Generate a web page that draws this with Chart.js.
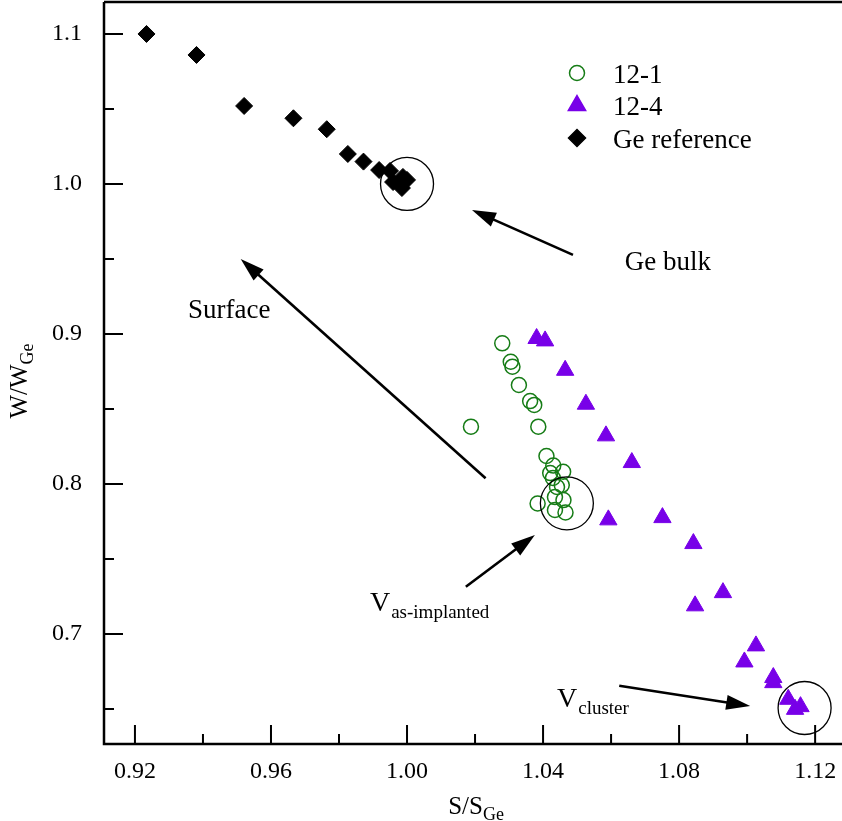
<!DOCTYPE html>
<html>
<head>
<meta charset="utf-8">
<script src="https://cdn.jsdelivr.net/npm/chart.js@4.4.1/dist/chart.umd.min.js"></script>
<style>
  html, body { margin: 0; padding: 0; background: #fff; }
  canvas { display: block; }
</style>
</head>
<body>
<canvas id="sw" width="842" height="821"></canvas>
<script>
// S and W parameters, normalised to the Ge reference
var sGe  = [0.9234, 0.9381, 0.9521, 0.9666, 0.9764, 0.9826, 0.9872, 0.9918, 0.9950, 0.9959, 0.9985, 1.0000, 0.9988];
var wGe  = [1.100, 1.086, 1.052, 1.0438, 1.0365, 1.020, 1.0149, 1.0093, 1.0087, 1.0013, 0.9973, 1.0027, 1.0047];

var s121 = [1.0280, 1.0305, 1.0310, 1.0329, 1.0362, 1.0374, 1.0188, 1.0386, 1.0410, 1.0430,
            1.0459, 1.0421, 1.0429, 1.0455, 1.0441, 1.0435, 1.0460, 1.0384, 1.0435, 1.0466];
var w121 = [0.8938, 0.8815, 0.8782, 0.8660, 0.8553, 0.8527, 0.8382, 0.8382, 0.8187, 0.8123,
            0.8082, 0.8073, 0.8040, 0.7993, 0.7980, 0.7913, 0.7893, 0.7870, 0.7827, 0.7810];

var s124 = [1.0381, 1.0406, 1.0465, 1.0526, 1.0585, 1.0661, 1.0592, 1.0751, 1.0842,
            1.0929, 1.0847, 1.1026, 1.0992, 1.1077, 1.1077, 1.1121, 1.1141, 1.1157];
var w124 = [0.8970, 0.8954, 0.8758, 0.8532, 0.8321, 0.8143, 0.7761, 0.7776, 0.7603,
            0.7276, 0.7188, 0.6921, 0.6814, 0.6710, 0.6676, 0.6565, 0.6498, 0.6516];

var seriesNames = ["12-1", "12-4", "Ge reference"];

// annotation circles (S, W) and arrows [S tail, W tail, S tip, W tip]
var ringCentres = [[1.000, 1.000], [1.0470, 0.7871], [1.1169, 0.6507]];
var arrows = [
    [1.0488, 0.9527, 1.0191, 0.9827],
    [1.0231, 0.8038, 0.9511, 0.9500],
    [1.0173, 0.7315, 1.0376, 0.7660],
    [1.0624, 0.6655, 1.1009, 0.6520]
];

var GREEN = "#167c16";
var VIOLET = "#7800e8";
var SERIF = "'Liberation Serif', 'DejaVu Serif', serif";

function pairs(xs, ys) {
    return xs.map(function (x, i) { return { x: x, y: ys[i] }; });
}

function drawArrow(ctx, x0, y0, x1, y1) {
    var a = Math.atan2(y1 - y0, x1 - x0);
    var len = 24, half = 7.5;
    var bx = x1 - len * Math.cos(a), by = y1 - len * Math.sin(a);
    ctx.beginPath();
    ctx.moveTo(x0, y0);
    ctx.lineTo(bx + 4 * Math.cos(a), by + 4 * Math.sin(a));
    ctx.stroke();
    ctx.beginPath();
    ctx.moveTo(x1, y1);
    ctx.lineTo(bx - half * Math.sin(a), by + half * Math.cos(a));
    ctx.lineTo(bx + half * Math.sin(a), by - half * Math.cos(a));
    ctx.closePath();
    ctx.fill();
}

// V with a subscript, left edge and baseline in pixels
function drawSubText(ctx, x, y, big, small, bigSize, smallSize, drop) {
    ctx.font = bigSize + "px " + SERIF;
    ctx.fillText(big, x, y);
    var w = ctx.measureText(big).width;
    ctx.font = smallSize + "px " + SERIF;
    ctx.fillText(small, x + w + 1, y + drop);
}

var decorations = {
    id: "decorations",
    afterDatasetsDraw: function (chart) {
        var ctx = chart.ctx;
        var xs = chart.scales.x, ys = chart.scales.y;
        var area = chart.chartArea;
        ctx.save();
        ctx.strokeStyle = "#000";
        ctx.fillStyle = "#000";

        // frame: left, bottom and top lines
        ctx.lineWidth = 2.5;
        ctx.beginPath();
        ctx.moveTo(area.left, area.top);
        ctx.lineTo(area.right, area.top);
        ctx.moveTo(area.left, area.top);
        ctx.lineTo(area.left, area.bottom);
        ctx.lineTo(area.right, area.bottom);
        ctx.stroke();

        // inward tick marks
        ctx.lineWidth = 2;
        ctx.beginPath();
        xs.ticks.forEach(function (t) {
            var px = xs.getPixelForValue(t.value);
            var major = Math.round(t.value * 100) % 4 === 0;
            ctx.moveTo(px, area.bottom);
            ctx.lineTo(px, area.bottom - (major ? 19 : 10));
        });
        ys.ticks.forEach(function (t) {
            var py = ys.getPixelForValue(t.value);
            var major = Math.round(t.value * 100) % 10 === 0;
            ctx.moveTo(area.left, py);
            ctx.lineTo(area.left + (major ? 19 : 10), py);
        });
        ctx.stroke();

        // rings
        ctx.lineWidth = 1.3;
        ringCentres.forEach(function (c) {
            ctx.beginPath();
            ctx.arc(xs.getPixelForValue(c[0]), ys.getPixelForValue(c[1]), 26.5, 0, Math.PI * 2);
            ctx.stroke();
        });

        // arrows
        ctx.lineWidth = 2.6;
        arrows.forEach(function (a) {
            drawArrow(ctx, xs.getPixelForValue(a[0]), ys.getPixelForValue(a[1]),
                xs.getPixelForValue(a[2]), ys.getPixelForValue(a[3]));
        });

        // annotation texts
        ctx.textAlign = "left";
        ctx.textBaseline = "alphabetic";
        ctx.font = "27px " + SERIF;
        ctx.fillText("Ge bulk", xs.getPixelForValue(1.0640), ys.getPixelForValue(0.9427));
        ctx.fillText("Surface", xs.getPixelForValue(0.9356), ys.getPixelForValue(0.9107));
        drawSubText(ctx, xs.getPixelForValue(0.9891), ys.getPixelForValue(0.7153), "V", "as-implanted", 28, 19, 7);
        drawSubText(ctx, xs.getPixelForValue(1.0441), ys.getPixelForValue(0.6513), "V", "cluster", 28, 19, 7);

        // axis titles
        ctx.font = "25px " + SERIF;
        var wMain = ctx.measureText("S/S").width;
        ctx.font = "18px " + SERIF;
        var wSub = ctx.measureText("Ge").width;
        var cx = (area.left + area.right) / 2 + 3;
        var x0 = cx - (wMain + wSub) / 2;
        ctx.font = "25px " + SERIF;
        ctx.fillText("S/S", x0, 814);
        ctx.font = "18px " + SERIF;
        ctx.fillText("Ge", x0 + wMain, 820);

        ctx.save();
        ctx.translate(27, 381);
        ctx.rotate(-Math.PI / 2);
        ctx.font = "25px " + SERIF;
        wMain = ctx.measureText("W/W").width;
        ctx.font = "18px " + SERIF;
        wSub = ctx.measureText("Ge").width;
        x0 = -(wMain + wSub) / 2;
        ctx.font = "25px " + SERIF;
        ctx.fillText("W/W", x0, 0);
        ctx.font = "18px " + SERIF;
        ctx.fillText("Ge", x0 + wMain, 6);
        ctx.restore();

        // legend
        var rows = [
            { style: "circle", r: 7.5, fill: "rgba(0,0,0,0)", stroke: GREEN },
            { style: "triangle", r: 10, fill: VIOLET, stroke: VIOLET },
            { style: "rectRot", r: 8.5, fill: "#000", stroke: "#000" }
        ];
        rows.forEach(function (row, i) {
            var y = 73 + i * 32.5;
            ctx.fillStyle = row.fill;
            ctx.strokeStyle = row.stroke;
            ctx.lineWidth = 1.5;
            Chart.helpers.drawPoint(ctx, { pointStyle: row.style, radius: row.r, rotation: 0, borderWidth: 1.5 }, 577, y);
            ctx.fillStyle = "#000";
            ctx.font = "27px " + SERIF;
            ctx.fillText(seriesNames[i], 613, y + 9.5);
        });
        ctx.restore();
    }
};

new Chart(document.getElementById("sw"), {
    type: "scatter",
    data: {
        datasets: [
            {
                label: seriesNames[2],
                data: pairs(sGe, wGe),
                pointStyle: "rectRot",
                pointRadius: 8.5,
                backgroundColor: "#000",
                borderColor: "#000",
                borderWidth: 1
            },
            {
                label: seriesNames[1],
                data: pairs(s124, w124),
                pointStyle: "triangle",
                pointRadius: 10,
                backgroundColor: VIOLET,
                borderColor: VIOLET,
                borderWidth: 1
            },
            {
                label: seriesNames[0],
                data: pairs(s121, w121),
                pointStyle: "circle",
                pointRadius: 7.5,
                backgroundColor: "rgba(0,0,0,0)",
                borderColor: GREEN,
                borderWidth: 1.5
            }
        ]
    },
    options: {
        responsive: false,
        animation: false,
        layout: { autoPadding: false, padding: { top: 2, right: 0, bottom: 0, left: 0 } },
        plugins: { legend: { display: false }, tooltip: { enabled: false } },
        scales: {
            x: {
                type: "linear",
                min: 0.9109,
                max: 1.1279,
                border: { display: false },
                grid: { display: false, drawTicks: false },
                ticks: {
                    stepSize: 0.02,
                    includeBounds: false,
                    autoSkip: false,
                    maxRotation: 0,
                    padding: 13,
                    color: "#000",
                    font: { family: SERIF, size: 24 },
                    callback: function (v) {
                        return Math.round(v * 100) % 4 === 0 ? Number(v).toFixed(2) : "";
                    }
                },
                afterFit: function (scale) {
                    scale.height = 77;
                    scale.paddingLeft = 0;
                    scale.paddingRight = 0;
                }
            },
            y: {
                type: "linear",
                min: 0.6267,
                max: 1.1213,
                border: { display: false },
                grid: { display: false, drawTicks: false },
                ticks: {
                    stepSize: 0.05,
                    includeBounds: false,
                    autoSkip: false,
                    padding: 22,
                    color: "#000",
                    font: { family: SERIF, size: 24 },
                    callback: function (v) {
                        return Math.round(v * 100) % 10 === 0 ? Number(v).toFixed(1) : "";
                    }
                },
                afterFit: function (scale) {
                    scale.width = 104;
                    scale.paddingTop = 0;
                    scale.paddingBottom = 0;
                }
            }
        }
    },
    plugins: [decorations]
});
</script>
</body>
</html>
